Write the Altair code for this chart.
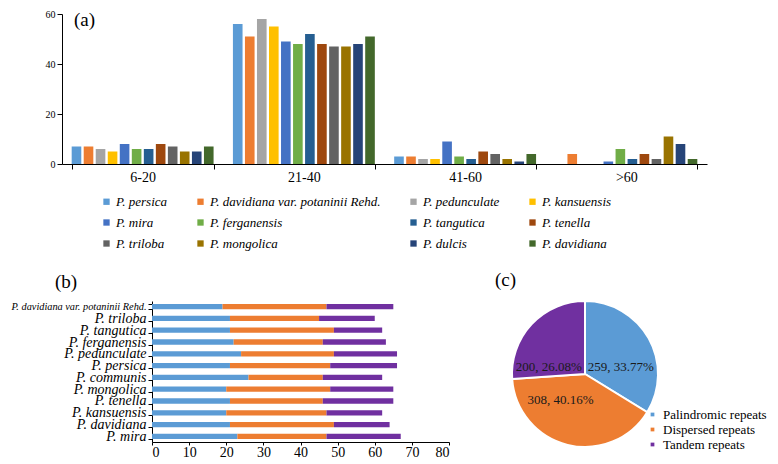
import altair as alt
import pandas as pd

# ---------------- data ----------------
ranges = ["6-20", "21-40", "41-60", ">60"]
species_a = ["P. persica", "P. davidiana var. potaninii Rehd.", "P. pedunculate", "P. kansuensis",
             "P. mira", "P. ferganensis", "P. tangutica", "P. tenella",
             "P. triloba", "P. mongolica", "P. dulcis", "P. davidiana"]
colors_a = ["#5B9BD5", "#ED7D31", "#A5A5A5", "#FFC000", "#4472C4", "#70AD47",
            "#255E91", "#9E480E", "#636363", "#997300", "#264478", "#43682B"]
counts_6_20 = [7, 7, 6, 5, 8, 6, 6, 8, 7, 5, 5, 7]
counts_21_40 = [56, 51, 58, 55, 49, 48, 52, 48, 47, 47, 48, 51]
counts_41_60 = [3, 3, 2, 2, 9, 3, 2, 5, 4, 2, 1, 4]
counts_gt60 = [0, 4, 0, 0, 1, 6, 2, 4, 2, 11, 8, 2]

species_b = ["P. davidiana var. potaninii Rehd.", "P. triloba", "P. tangutica", "P. ferganensis",
             "P. pedunculate", "P. persica", "P. communis", "P. mongolica",
             "P. tenella", "P. kansuensis", "P. davidiana", "P. mira"]
palindromic = [19, 21, 21, 22, 24, 21, 26, 20, 21, 20, 21, 23]
dispersed = [28, 24, 28, 24, 25, 27, 20, 28, 25, 27, 28, 24]
tandem = [18, 15, 13, 17, 17, 18, 16, 17, 19, 15, 15, 20]

repeat_types = ["Palindromic repeats", "Dispersed repeats", "Tandem repeats"]
repeat_counts = [259, 308, 200]
repeat_labels = ["259, 33.77%", "308, 40.16%", "200, 26.08%"]
colors_c = ["#5B9BD5", "#ED7D31", "#7030A0"]

FONT = "Liberation Serif"
LONG = "P. davidiana var. potaninii Rehd."

# ---------------- panel (a) ----------------
rows = []
for r, vals in zip(ranges, [counts_6_20, counts_21_40, counts_41_60, counts_gt60]):
    for s, v in zip(species_a, vals):
        rows.append({"range": r, "species": s, "count": v})
df_a = pd.DataFrame(rows)

bars_a = alt.Chart(df_a).mark_bar().encode(
    x=alt.X("range:N", sort=ranges, title=None,
            scale=alt.Scale(paddingInner=0.12, paddingOuter=0.06),
            axis=alt.Axis(labelAngle=0, labelFontSize=14, labelFont=FONT, labelColor="black",
                          tickBand="extent", tickSize=5, tickColor="black", domainColor="black",
                          labelPadding=1)),
    xOffset=alt.XOffset("species:N", sort=species_a, scale=alt.Scale(paddingInner=0.2)),
    y=alt.Y("count:Q", title=None, scale=alt.Scale(domain=[0, 60]),
            axis=alt.Axis(values=[0, 20, 40, 60], grid=False, labelFontSize=10, labelFont=FONT,
                          labelColor="black", tickColor="black", domainColor="black", tickSize=5,
                          minExtent=53)),
    color=alt.Color("species:N", sort=species_a,
                    scale=alt.Scale(domain=species_a, range=colors_a),
                    legend=alt.Legend(title=None, orient="none", legendX=38, legendY=181,
                                      direction="horizontal", columns=4,
                                      symbolType="square", symbolSize=40,
                                      symbolStrokeWidth=0, labelFont=FONT, labelFontSize=13,
                                      labelFontStyle="italic", labelLimit=300, rowPadding=7,
                                      columnPadding=26, labelOffset=3, labelColor="black")),
)
label_a = alt.Chart(pd.DataFrame({"t": ["(a)"]})).mark_text(
    font=FONT, fontSize=19, align="left", baseline="top", color="black"
).encode(text="t:N", x=alt.value(12), y=alt.value(-3))

panel_a = alt.layer(bars_a, label_a).properties(width=645, height=150)

# ---------------- panel (b) ----------------
rows = []
for s, p, d, t in zip(species_b, palindromic, dispersed, tandem):
    rows.append({"species": s, "type": repeat_types[0], "n": p, "o": 0})
    rows.append({"species": s, "type": repeat_types[1], "n": d, "o": 1})
    rows.append({"species": s, "type": repeat_types[2], "n": t, "o": 2})
df_b = pd.DataFrame(rows)

panel_b = alt.Chart(df_b, title=alt.TitleParams("(b)", font=FONT, fontSize=19, fontWeight="normal",
                                                 anchor="start", frame="group", dx=-97, offset=2,
                                                 color="black")
                    ).mark_bar().encode(
    y=alt.Y("species:N", sort=species_b, title=None,
            scale=alt.Scale(paddingInner=0.55, paddingOuter=0.25),
            axis=alt.Axis(labelFont=FONT, labelFontStyle="italic", labelColor="black",
                          labelFontSize={"expr": f"datum.value == '{LONG}' ? 10.3 : 14"},
                          labelOverlap=False, labelLimit=300, tickBand="extent", tickSize=4,
                          tickColor="black", domainColor="black", labelPadding=2,
                          minExtent=143)),
    x=alt.X("n:Q", stack="zero", title=None, scale=alt.Scale(domain=[0, 80]),
            axis=alt.Axis(values=list(range(0, 81, 10)), grid=False, labelFont=FONT,
                          labelFontSize=14, labelColor="black", tickColor="black",
                          domainColor="black", tickSize=3, labelPadding=0)),
    color=alt.Color("type:N", scale=alt.Scale(domain=repeat_types, range=colors_c), legend=None),
    order=alt.Order("o:Q"),
).properties(width=297, height=141)

# ---------------- panel (c) ----------------
df_c = pd.DataFrame({"type": repeat_types, "count": repeat_counts, "label": repeat_labels,
                     "o": [0, 1, 2]})

pie = alt.Chart(df_c).mark_arc(outerRadius=73, stroke="white", strokeWidth=2).encode(
    theta=alt.Theta("count:Q", stack=True),
    order=alt.Order("o:Q"),
    color=alt.Color("type:N", scale=alt.Scale(domain=repeat_types, range=colors_c),
                    legend=alt.Legend(title=None, orient="none", legendX=134, legendY=107,
                                      symbolType="square", symbolSize=14, symbolStrokeWidth=0,
                                      labelFont=FONT, labelFontSize=13, labelColor="black",
                                      rowPadding=1, labelOffset=4)),
)

base_txt = alt.Chart(df_c).transform_window(
    cum="sum(count)", sort=[alt.SortField("o")], frame=[None, 0]
).transform_joinaggregate(total="sum(count)").transform_calculate(
    mid="(datum.cum - datum.count / 2) / datum.total"
)

offsets = {repeat_types[0]: (1, 13), repeat_types[1]: (-15, -13), repeat_types[2]: (-7, 20)}
txt_layers = []
for rt in repeat_types:
    dx, dy = offsets[rt]
    txt_layers.append(
        base_txt.transform_filter(alt.datum.type == rt).mark_text(
            radius=40, font=FONT, fontSize=13, color="#1a1a1a", dx=dx, dy=dy
        ).encode(theta=alt.Theta("mid:Q", scale=alt.Scale(domain=[0, 1])), text="label:N")
    )

panel_c = alt.layer(pie, *txt_layers, title=alt.TitleParams(
    "(c)", font=FONT, fontSize=19, fontWeight="normal", anchor="start", frame="group",
    dx=-17, offset=7, color="black")).resolve_scale(theta="independent").properties(
    width=146, height=146)


# invisible 1px anchors so that panel (a) and panel (b) keep their own left offsets
def anchor():
    return alt.Chart(pd.DataFrame({"t": [""]})).mark_text(opacity=0).encode(
        text="t:N", x=alt.value(0), y=alt.value(0)).properties(width=1, height=1)


top = alt.hconcat(anchor(), panel_a, spacing=0).resolve_scale(color="independent")
inner = alt.hconcat(panel_b, panel_c, spacing=45).resolve_scale(color="independent")
bottom = alt.hconcat(anchor(), inner, spacing=0).resolve_scale(color="independent")
chart = alt.vconcat(top, bottom, spacing=20).resolve_scale(
    color="independent").properties(padding=0).configure(font=FONT).configure_view(
    strokeWidth=0).configure_axis(domainWidth=1, tickWidth=1, labelFont=FONT)

chart.save("out.html", embed_options={"renderer": "svg", "actions": False})
